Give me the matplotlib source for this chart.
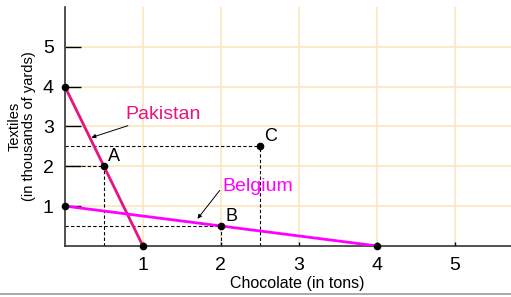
import numpy as np
import matplotlib
matplotlib.use('Agg')
import matplotlib.pyplot as plt

plt.rcParams['font.family'] = ['Liberation Sans', 'DejaVu Sans']

# Production possibility frontiers
pak_x = [0, 1]
pak_y = [4, 0]
bel_x = [0, 4]
bel_y = [1, 0]

# Marked points
pt_names = ['A', 'B', 'C']
pt_x = [0.5, 2, 2.5]
pt_y = [2, 0.5, 2.5]

ticks = [1, 2, 3, 4, 5]

pak_col = '#E8137F'
bel_col = '#FF00FF'
grid_col = '#FBE6BE'

fig = plt.figure(figsize=(5.11, 2.97), dpi=100)
ax = fig.add_axes([0.127, 0.172, 0.873, 0.805])
ax.set_xlim(0, 5.72)
ax.set_ylim(0, 6.0)

for t in ticks:
    ax.axvline(t, color=grid_col, lw=1.2, zorder=0)
    ax.axhline(t, color=grid_col, lw=1.2, zorder=0)

# dashed guides
for x, y in zip(pt_x, pt_y):
    ax.plot([0, x], [y, y], ls=(0, (3, 2)), color='black', lw=0.8, zorder=2)
    ax.plot([x, x], [0, y], ls=(0, (3, 2)), color='black', lw=0.8, zorder=2)

ax.plot(pak_x, pak_y, color=pak_col, lw=2, zorder=3)
ax.plot(bel_x, bel_y, color=bel_col, lw=2, zorder=3)

ends_x = pak_x + bel_x
ends_y = pak_y + bel_y
ax.plot(ends_x, ends_y, 'o', color='black', ms=4.5, zorder=4, clip_on=False)
ax.plot(pt_x, pt_y, 'o', color='black', ms=4.5, zorder=4)

for n, x, y in zip(pt_names, pt_x, pt_y):
    ax.annotate(n, (x, y), xytext=(3, 1), textcoords='offset points',
                fontsize=13, ha='left', va='bottom')

ax.annotate('Pakistan', xy=(0.34, 2.72), xytext=(0.77, 3.3), color=pak_col,
            fontsize=14, va='center', ha='left',
            arrowprops=dict(arrowstyle='-|>', color='black', lw=0.7,
                            mutation_scale=6, shrinkA=0, shrinkB=0))
ax.annotate('Belgium', xy=(1.7, 0.68), xytext=(2.02, 1.48), color=bel_col,
            fontsize=14, va='center', ha='left',
            arrowprops=dict(arrowstyle='-|>', color='black', lw=0.7,
                            mutation_scale=6, shrinkA=0, shrinkB=0,
                            relpos=(0, 0.5)))

for s in ['top', 'right']:
    ax.spines[s].set_visible(False)
for s in ['left', 'bottom']:
    ax.spines[s].set_color('#333333')
    ax.spines[s].set_linewidth(1.2)

ax.set_xticks(ticks)
ax.set_yticks(ticks)
ax.tick_params(axis='y', direction='in', length=11.5, width=1, labelsize=14, pad=8)
ax.tick_params(axis='x', direction='in', length=3, width=1, labelsize=14, pad=8)

ax.set_xlabel('Chocolate (in tons)', fontsize=11.5)
ax.xaxis.set_label_coords(0.52, -0.125)
ax.set_ylabel('Textiles\n(in thousands of yards)', fontsize=10.5, labelpad=5,
              linespacing=1.0)

fig.add_artist(plt.Line2D([0, 1], [0.01, 0.01], color='#999999', lw=1.2))

fig.savefig('out.png', dpi=100)
